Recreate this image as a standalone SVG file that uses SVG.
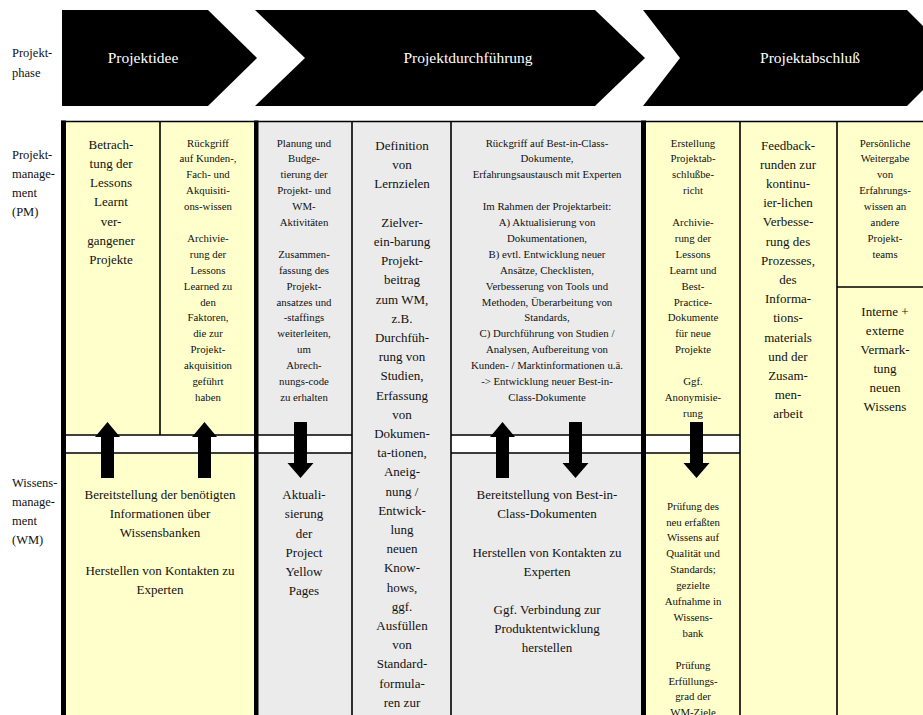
<svg xmlns="http://www.w3.org/2000/svg" width="923" height="715" viewBox="0 0 923 715">
<style>
text{font-family:"Liberation Serif","Times New Roman",serif;fill:#111}
.lbl{font-size:12.5px}
.ph{font-size:15.5px;fill:#fff;text-anchor:middle}
.big{font-size:13px;text-anchor:middle}
.sm{font-size:10.8px;text-anchor:middle}
.y{fill:#ffffcc}
.g{fill:#ebebeb}
.ln{stroke:#000;stroke-width:1.6;fill:none}
.thick{fill:#000}
.arr{fill:#000}
</style>
<defs>
<path id="arrUp" d="M0,-28 L12.5,-13 L6.5,-13 L6.5,28 L-6.5,28 L-6.5,-13 L-12.5,-13 Z"/>
<path id="arrDn" d="M0,28 L13,13 L6.5,13 L6.5,-28 L-6.5,-28 L-6.5,13 L-13,13 Z"/>
</defs>
<rect width="923" height="715" fill="#fff"/>

<g id="row-labels">
<text class="lbl" x="12" y="57">Projekt-<tspan x="12" y="77">phase</tspan></text>
<text class="lbl" x="12" y="159">Projekt-<tspan x="12" y="178">manage-</tspan><tspan x="12" y="197">ment</tspan><tspan x="12" y="216">(PM)</tspan></text>
<text class="lbl" x="12" y="487">Wissens-<tspan x="12" y="506">manage-</tspan><tspan x="12" y="525">ment</tspan><tspan x="12" y="544">(WM)</tspan></text>
</g>

<g id="phase-projektidee">
<polygon points="62,10 208,10 257,58 208,106 62,106" fill="#000"/>
<text class="ph" x="143" y="63">Projektidee</text>
</g>
<g id="phase-projektdurchfuehrung">
<polygon points="255,10 595,10 645,58 595,106 255,106 305,58" fill="#000"/>
<text class="ph" x="468" y="63">Projektdurchführung</text>
</g>
<g id="phase-projektabschluss">
<polygon points="643,10 907,10 955,58 907,106 643,106 680,58" fill="#000"/>
<text class="ph" x="810" y="63">Projektabschluß</text>
</g>

<g id="cell-a-pm">
<rect class="y" x="66" y="122" width="94" height="313"/>
<text class="big" x="111" y="148.5">Betrach-<tspan x="111" y="167.8">tung der</tspan><tspan x="111" y="187.1">Lessons</tspan><tspan x="111" y="206.4">Learnt</tspan><tspan x="111" y="225.7">ver-</tspan><tspan x="111" y="245">gangener</tspan><tspan x="111" y="264.3">Projekte</tspan></text>
</g>

<g id="cell-b-pm">
<rect class="y" x="160" y="122" width="94" height="313"/>
<text class="sm" x="208" y="146.5">Rückgriff<tspan x="208" y="162.4">auf Kunden-,</tspan><tspan x="208" y="178.3">Fach- und</tspan><tspan x="208" y="194.2">Akquisiti-</tspan><tspan x="208" y="210.1">ons-wissen</tspan><tspan x="208" y="241.9">Archivie-</tspan><tspan x="208" y="257.8">rung der</tspan><tspan x="208" y="273.7">Lessons</tspan><tspan x="208" y="289.6">Learned zu</tspan><tspan x="208" y="305.5">den</tspan><tspan x="208" y="321.4">Faktoren,</tspan><tspan x="208" y="337.3">die zur</tspan><tspan x="208" y="353.2">Projekt-</tspan><tspan x="208" y="369.1">akquisition</tspan><tspan x="208" y="385">geführt</tspan><tspan x="208" y="400.9">haben</tspan></text>
</g>

<g id="cell-ab-wm">
<rect class="y" x="66" y="453" width="188" height="262"/>
<text class="big" x="160" y="499.3">Bereitstellung der benötigten<tspan x="160" y="518.3">Informationen über</tspan><tspan x="160" y="537.3">Wissensbanken</tspan><tspan x="160" y="575.3">Herstellen von Kontakten zu</tspan><tspan x="160" y="594.3">Experten</tspan></text>
</g>

<g id="cell-c-pm">
<rect class="g" x="258" y="122" width="94" height="313"/>
<text class="sm" x="304" y="146.5">Planung und<tspan x="304" y="162.4">Budge-</tspan><tspan x="304" y="178.3">tierung der</tspan><tspan x="304" y="194.2">Projekt- und</tspan><tspan x="304" y="210.1">WM-</tspan><tspan x="304" y="226">Aktivitäten</tspan><tspan x="304" y="257.8">Zusammen-</tspan><tspan x="304" y="273.7">fassung des</tspan><tspan x="304" y="289.6">Projekt-</tspan><tspan x="304" y="305.5">ansatzes und</tspan><tspan x="304" y="321.4">-staffings</tspan><tspan x="304" y="337.3">weiterleiten,</tspan><tspan x="304" y="353.2">um</tspan><tspan x="304" y="369.1">Abrech-</tspan><tspan x="304" y="385">nungs-code</tspan><tspan x="304" y="400.9">zu erhalten</tspan></text>
</g>

<g id="cell-c-wm">
<rect class="g" x="258" y="453" width="94" height="262"/>
<text class="big" x="304" y="499.3">Aktuali-<tspan x="304" y="518.4">sierung</tspan><tspan x="304" y="537.5">der</tspan><tspan x="304" y="556.6">Project</tspan><tspan x="304" y="575.7">Yellow</tspan><tspan x="304" y="594.8">Pages</tspan></text>
</g>

<g id="cell-d">
<rect class="g" x="352" y="122" width="99" height="593"/>
<text class="big" x="402" y="150">Definition<tspan x="402" y="169.2">von</tspan><tspan x="402" y="188.4">Lernzielen</tspan><tspan x="402" y="226.8">Zielver-</tspan><tspan x="402" y="246">ein-barung</tspan><tspan x="402" y="265.2">Projekt-</tspan><tspan x="402" y="284.4">beitrag</tspan><tspan x="402" y="303.6">zum WM,</tspan><tspan x="402" y="322.8">z.B.</tspan><tspan x="402" y="342">Durchfüh-</tspan><tspan x="402" y="361.2">rung von</tspan><tspan x="402" y="380.4">Studien,</tspan><tspan x="402" y="399.6">Erfassung</tspan><tspan x="402" y="418.8">von</tspan><tspan x="402" y="438">Dokumen-</tspan><tspan x="402" y="457.2">ta-tionen,</tspan><tspan x="402" y="476.4">Aneig-</tspan><tspan x="402" y="495.6">nung /</tspan><tspan x="402" y="514.8">Entwick-</tspan><tspan x="402" y="534">lung</tspan><tspan x="402" y="553.2">neuen</tspan><tspan x="402" y="572.4">Know-</tspan><tspan x="402" y="591.6">hows,</tspan><tspan x="402" y="610.8">ggf.</tspan><tspan x="402" y="630">Ausfüllen</tspan><tspan x="402" y="649.2">von</tspan><tspan x="402" y="668.4">Standard-</tspan><tspan x="402" y="687.6">formula-</tspan><tspan x="402" y="706.8">ren zur</tspan></text>
</g>

<g id="cell-e-pm">
<rect class="g" x="451" y="122" width="190" height="313"/>
<text class="sm" x="547" y="146.5">Rückgriff auf Best-in-Class-<tspan x="547" y="162.4">Dokumente,</tspan><tspan x="547" y="178.3">Erfahrungsaustausch mit Experten</tspan><tspan x="547" y="210.1">Im Rahmen der Projektarbeit:</tspan><tspan x="547" y="226">A) Aktualisierung von</tspan><tspan x="547" y="241.9">Dokumentationen,</tspan><tspan x="547" y="257.8">B) evtl. Entwicklung neuer</tspan><tspan x="547" y="273.7">Ansätze, Checklisten,</tspan><tspan x="547" y="289.6">Verbesserung von Tools und</tspan><tspan x="547" y="305.5">Methoden, Überarbeitung von</tspan><tspan x="547" y="321.4">Standards,</tspan><tspan x="547" y="337.3">C) Durchführung von Studien /</tspan><tspan x="547" y="353.2">Analysen, Aufbereitung von</tspan><tspan x="547" y="369.1">Kunden- / Marktinformationen u.ä.</tspan><tspan x="547" y="385">-&gt; Entwicklung neuer Best-in-</tspan><tspan x="547" y="400.9">Class-Dokumente</tspan></text>
</g>

<g id="cell-e-wm">
<rect class="g" x="451" y="453" width="190" height="262"/>
<text class="big" x="547" y="499.3">Bereitstellung von Best-in-<tspan x="547" y="518.4">Class-Dokumenten</tspan><tspan x="547" y="556.6">Herstellen von Kontakten zu</tspan><tspan x="547" y="575.7">Experten</tspan><tspan x="547" y="613.9">Ggf. Verbindung zur</tspan><tspan x="547" y="633">Produktentwicklung</tspan><tspan x="547" y="652.1">herstellen</tspan></text>
</g>

<g id="cell-f-pm">
<rect class="y" x="646" y="122" width="94" height="313"/>
<text class="sm" x="693" y="146.5">Erstellung<tspan x="693" y="162.4">Projektab-</tspan><tspan x="693" y="178.3">schlußbe-</tspan><tspan x="693" y="194.2">richt</tspan><tspan x="693" y="226">Archivie-</tspan><tspan x="693" y="241.9">rung der</tspan><tspan x="693" y="257.8">Lessons</tspan><tspan x="693" y="273.7">Learnt und</tspan><tspan x="693" y="289.6">Best-</tspan><tspan x="693" y="305.5">Practice-</tspan><tspan x="693" y="321.4">Dokumente</tspan><tspan x="693" y="337.3">für neue</tspan><tspan x="693" y="353.2">Projekte</tspan><tspan x="693" y="385">Ggf.</tspan><tspan x="693" y="400.9">Anonymisie-</tspan><tspan x="693" y="416.8">rung</tspan></text>
</g>

<g id="cell-f-wm">
<rect class="y" x="646" y="453" width="94" height="262"/>
<text class="sm" x="693" y="509.6">Prüfung des<tspan x="693" y="525.5">neu erfaßten</tspan><tspan x="693" y="541.4">Wissens auf</tspan><tspan x="693" y="557.3">Qualität und</tspan><tspan x="693" y="573.2">Standards;</tspan><tspan x="693" y="589.1">gezielte</tspan><tspan x="693" y="605">Aufnahme in</tspan><tspan x="693" y="620.9">Wissens-</tspan><tspan x="693" y="636.8">bank</tspan><tspan x="693" y="668.6">Prüfung</tspan><tspan x="693" y="684.5">Erfüllungs-</tspan><tspan x="693" y="700.4">grad der</tspan><tspan x="693" y="716.3">WM-Ziele</tspan></text>
</g>

<g id="cell-g">
<rect class="y" x="740" y="122" width="97" height="593"/>
<text class="big" x="788" y="149.5">Feedback-<tspan x="788" y="168.7">runden zur</tspan><tspan x="788" y="187.9">kontinu-</tspan><tspan x="788" y="207.1">ier-lichen</tspan><tspan x="788" y="226.3">Verbesse-</tspan><tspan x="788" y="245.5">rung des</tspan><tspan x="788" y="264.7">Prozesses,</tspan><tspan x="788" y="283.9">des</tspan><tspan x="788" y="303.1">Informa-</tspan><tspan x="788" y="322.3">tions-</tspan><tspan x="788" y="341.5">materials</tspan><tspan x="788" y="360.7">und der</tspan><tspan x="788" y="379.9">Zusam-</tspan><tspan x="788" y="399.1">men-</tspan><tspan x="788" y="418.3">arbeit</tspan></text>
</g>

<g id="cell-h-top">
<rect class="y" x="837" y="122" width="86" height="165"/>
<text class="sm" x="885" y="146.5">Persönliche<tspan x="885" y="162.4">Weitergabe</tspan><tspan x="885" y="178.3">von</tspan><tspan x="885" y="194.2">Erfahrungs-</tspan><tspan x="885" y="210.1">wissen an</tspan><tspan x="885" y="226">andere</tspan><tspan x="885" y="241.9">Projekt-</tspan><tspan x="885" y="257.8">teams</tspan></text>
</g>

<g id="cell-h-bottom">
<rect class="y" x="837" y="287" width="86" height="428"/>
<text class="big" x="885" y="315.5">Interne +<tspan x="885" y="334.6">externe</tspan><tspan x="885" y="353.7">Vermark-</tspan><tspan x="885" y="372.8">tung</tspan><tspan x="885" y="391.9">neuen</tspan><tspan x="885" y="411">Wissens</tspan></text>
</g>

<g id="grid">
<rect x="66" y="435" width="286" height="18" fill="#fff"/>
<rect x="451" y="435" width="289" height="18" fill="#fff"/>
<path class="ln" d="M61,121.5 H923 M160,121 V435 M352,121 V715 M451,121 V715 M740,121 V715 M837,121 V715 M837,287 H923 M61,435 H352 M61,453 H352 M451,435 H740 M451,453 H740"/>
<rect class="thick" x="61" y="120.5" width="5" height="595"/>
<rect class="thick" x="254" y="120.5" width="4.5" height="595"/>
<rect class="thick" x="641" y="120.5" width="5" height="595"/>
</g>

<g id="connectors" class="arr">
<use href="#arrUp" x="107.5" y="450"/>
<use href="#arrUp" x="204.5" y="450"/>
<use href="#arrDn" x="300.5" y="450"/>
<use href="#arrUp" x="502.5" y="450"/>
<use href="#arrDn" x="575.5" y="450"/>
<use href="#arrDn" x="696.5" y="450"/>
</g>
</svg>
